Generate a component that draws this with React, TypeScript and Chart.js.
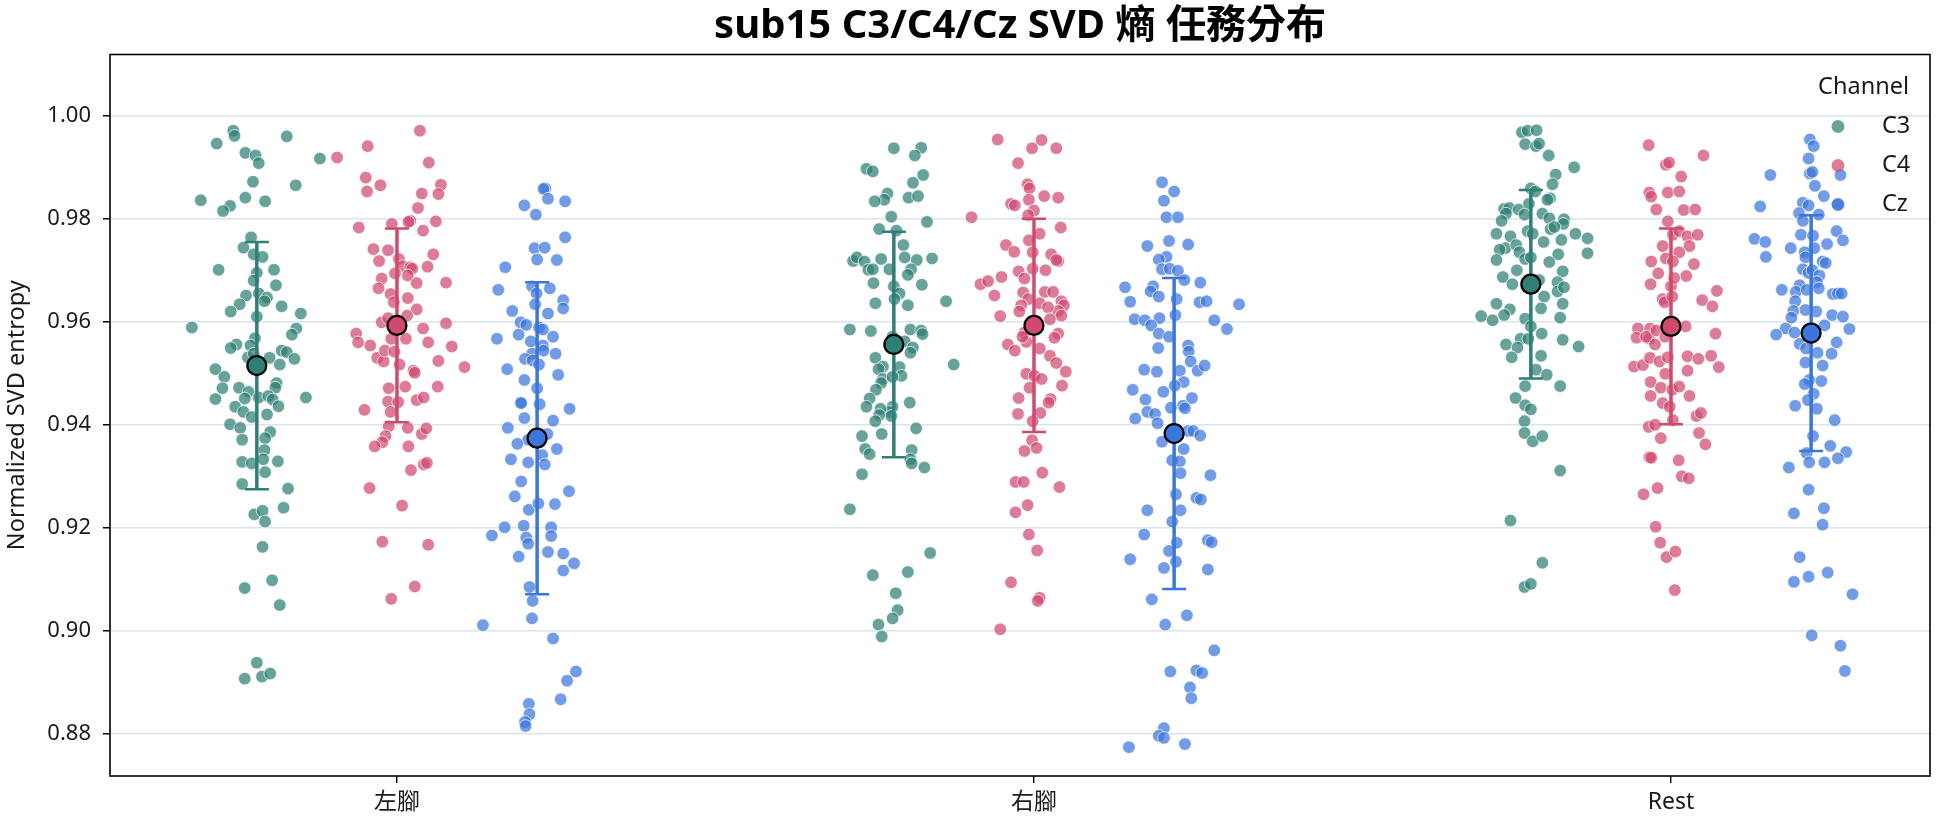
import React, { useEffect, useRef } from "react";
import { Chart, registerables } from "chart.js";

Chart.register(...registerables);

// Task categories and EEG channels
const categories = ["左腳", "右腳", "Rest"];
const channels = ["C3", "C4", "Cz"];
const yTickValues = [0.88, 0.9, 0.92, 0.94, 0.96, 0.98, 1.0];
const chartTitle = "sub15 C3/C4/Cz SVD 熵 任務分布";

// Per-trial normalized SVD entropy, stored as [jitter, value]
const c3Left = [[-0.037,0.997],[-0.035,0.996],[-0.063,0.9945],[0.047,0.9959],[-0.018,0.9927],[-0.002,0.9922],[0.003,0.9907],[0.099,0.9916],[-0.006,0.9871],[0.061,0.9864],[-0.088,0.9835],[-0.042,0.9824],[-0.053,0.9814],[-0.018,0.984],[0.013,0.9833],[-0.009,0.9763],[-0.021,0.9743],[-0.005,0.973],[0.009,0.9725],[-0.06,0.97],[0.027,0.97],[0,0.9694],[-0.005,0.9679],[0.03,0.967],[-0.017,0.965],[0.003,0.9654],[0.016,0.9646],[0.012,0.9639],[-0.027,0.9633],[-0.041,0.9619],[0.039,0.9629],[0,0.9609],[0.069,0.9615],[-0.102,0.9588],[0.062,0.9586],[0.055,0.9574],[-0.032,0.9555],[-0.041,0.9548],[-0.003,0.9567],[-0.01,0.9553],[-0.014,0.953],[-0.005,0.9537],[0.039,0.9543],[0.047,0.954],[0.059,0.9527],[0.02,0.9529],[0.036,0.9516],[-0.065,0.9507],[-0.051,0.9492],[-0.054,0.947],[-0.028,0.9471],[-0.013,0.9463],[-0.065,0.9449],[-0.019,0.945],[0.003,0.9452],[0.031,0.948],[0.029,0.9471],[0.018,0.9455],[0.025,0.9448],[0.077,0.9452],[-0.034,0.9434],[-0.021,0.9424],[-0.008,0.9414],[0.016,0.9419],[0.034,0.9435],[-0.042,0.94],[-0.026,0.9393],[-0.023,0.937],[0.021,0.9385],[0.013,0.9373],[0.012,0.935],[-0.023,0.9327],[-0.008,0.9324],[0.01,0.9332],[0.013,0.9307],[0.033,0.9328],[-0.023,0.9284],[0.049,0.9275],[-0.004,0.9225],[0.009,0.9232],[0.013,0.9211],[0.042,0.9238],[0.009,0.9162],[-0.019,0.9082],[0.024,0.9097],[0.036,0.9049],[0,0.8937],[-0.019,0.8906],[0.008,0.891],[0.021,0.8916]];
const c3Right = [[0,0.9936],[0.043,0.9937],[0.033,0.9922],[-0.043,0.9896],[-0.033,0.9891],[0.046,0.9884],[0.03,0.9869],[-0.01,0.9848],[-0.015,0.9836],[-0.03,0.9833],[0.023,0.984],[0.038,0.9843],[-0.004,0.9803],[0.052,0.9793],[-0.023,0.9779],[0.004,0.9776],[0.015,0.9748],[0.017,0.9724],[-0.064,0.9717],[-0.058,0.9724],[-0.02,0.9721],[-0.046,0.9716],[-0.04,0.97],[-0.033,0.9701],[-0.007,0.9701],[0.036,0.9719],[0.06,0.9722],[0.027,0.9701],[0.022,0.969],[-0.032,0.9674],[0.044,0.9671],[0,0.9668],[0.009,0.9654],[0.001,0.9643],[0.022,0.9631],[-0.029,0.9635],[0.082,0.9639],[-0.069,0.9584],[-0.036,0.9581],[-0.002,0.957],[0.026,0.9584],[0.043,0.9582],[0.045,0.9575],[0.017,0.9561],[0.03,0.9549],[0.026,0.9539],[0.094,0.9516],[-0.029,0.9529],[-0.017,0.9512],[-0.024,0.9507],[-0.017,0.9488],[0.009,0.9511],[0.012,0.9494],[-0.002,0.9492],[-0.02,0.948],[-0.028,0.9467],[-0.038,0.945],[-0.043,0.9434],[-0.002,0.9434],[-0.007,0.9424],[-0.004,0.9416],[-0.021,0.943],[-0.023,0.9418],[-0.029,0.9406],[0.025,0.9442],[0.035,0.9392],[-0.019,0.9381],[-0.05,0.9377],[-0.045,0.9352],[-0.038,0.9342],[0.028,0.935],[0.026,0.9332],[0.028,0.9324],[0.048,0.9316],[-0.05,0.9303],[-0.069,0.9235],[0.057,0.915],[0.022,0.9113],[-0.033,0.9107],[0.003,0.9072],[0.006,0.9039],[-0.002,0.9023],[-0.024,0.9011],[-0.019,0.8988]];
const c3Rest = [[-0.014,0.9967],[-0.005,0.997],[0.009,0.9971],[-0.009,0.9944],[0.008,0.994],[0.013,0.9945],[0.028,0.9922],[0.068,0.9899],[0.039,0.9885],[0.034,0.9866],[0,0.9858],[0.007,0.9852],[0.03,0.9839],[0.026,0.9836],[-0.042,0.9818],[-0.034,0.982],[-0.039,0.9809],[-0.046,0.9795],[-0.019,0.9817],[-0.003,0.9828],[-0.01,0.9807],[0.018,0.9809],[0.029,0.98],[0.052,0.9798],[0.051,0.9789],[-0.054,0.977],[-0.032,0.9765],[-0.04,0.9742],[-0.049,0.9739],[-0.023,0.9748],[-0.005,0.9775],[0.003,0.977],[0.02,0.9754],[0.031,0.9779],[0.037,0.9783],[0.048,0.9758],[0.07,0.977],[0.089,0.9761],[0.089,0.9732],[-0.018,0.9734],[-0.009,0.9721],[0,0.9724],[-0.054,0.9719],[0.043,0.973],[0.029,0.9715],[-0.022,0.9699],[-0.044,0.9686],[-0.029,0.9672],[0.05,0.9697],[0.013,0.968],[0.042,0.9676],[0.042,0.9658],[0.052,0.9666],[0.021,0.9648],[0.016,0.9625],[-0.054,0.9634],[0.05,0.9634],[-0.033,0.9623],[-0.042,0.9612],[-0.078,0.961],[-0.06,0.9602],[-0.009,0.9605],[0.046,0.9607],[0,0.959],[-0.016,0.9566],[-0.004,0.9566],[0.017,0.9576],[0.05,0.9564],[0.075,0.9551],[-0.039,0.9555],[-0.021,0.9549],[-0.03,0.953],[0.016,0.9533],[0.008,0.9506],[0.025,0.9496],[-0.009,0.9474],[0.046,0.9474],[-0.024,0.9451],[-0.009,0.9437],[0,0.9429],[-0.01,0.9406],[-0.01,0.9383],[0.003,0.9367],[0.018,0.9377],[0.046,0.931],[-0.032,0.9213],[0.018,0.9131],[-0.01,0.9084],[0,0.909]];
const c4Left = [[0.036,0.997],[-0.094,0.9918],[-0.046,0.994],[0.05,0.9908],[-0.049,0.9879],[-0.047,0.9852],[-0.026,0.9864],[0.069,0.9865],[0.065,0.9847],[0.039,0.9848],[0.033,0.982],[-0.06,0.9782],[-0.008,0.9789],[0.021,0.9795],[0.018,0.9793],[0.041,0.9776],[0.061,0.9794],[-0.037,0.974],[-0.014,0.9738],[-0.028,0.9717],[0.057,0.973],[0.003,0.9721],[0.009,0.9707],[0.021,0.9705],[0.024,0.9702],[0.048,0.9706],[-0.003,0.9693],[0.017,0.9689],[-0.024,0.9683],[-0.029,0.9664],[0.077,0.9675],[0.031,0.9674],[-0.01,0.9653],[-0.005,0.9637],[0.017,0.9645],[0.031,0.9623],[0.016,0.9611],[-0.024,0.9598],[-0.014,0.9606],[0.041,0.9586],[0.077,0.9596],[-0.064,0.9576],[-0.061,0.9559],[-0.042,0.9553],[-0.009,0.9566],[0.014,0.9566],[0.049,0.9559],[0.086,0.9551],[-0.031,0.9529],[-0.021,0.9522],[-0.019,0.9543],[-0.004,0.9541],[0.004,0.9516],[0.026,0.9504],[0.028,0.95],[0.065,0.9523],[0.106,0.9511],[-0.013,0.947],[-0.014,0.9444],[0.013,0.9473],[0.002,0.9443],[-0.01,0.9424],[0.031,0.9447],[0.042,0.9452],[0.064,0.9473],[-0.051,0.9428],[-0.013,0.9396],[-0.018,0.9377],[-0.023,0.9365],[-0.035,0.9357],[0.017,0.9393],[0.039,0.9381],[0.046,0.9392],[0.018,0.9357],[0.042,0.9322],[0.047,0.9325],[0.022,0.9311],[-0.043,0.9276],[0.008,0.9242],[-0.023,0.9172],[0.049,0.9166],[0.028,0.9085],[-0.009,0.9061]];
const c4Right = [[-0.057,0.9953],[0.012,0.9952],[-0.003,0.9936],[0.035,0.9936],[-0.025,0.9907],[-0.01,0.9866],[-0.007,0.9858],[-0.008,0.9836],[0.016,0.9843],[0.038,0.984],[-0.036,0.9828],[-0.03,0.9825],[0,0.9815],[-0.009,0.9806],[-0.098,0.9802],[0.042,0.9782],[0.009,0.977],[-0.008,0.9757],[-0.044,0.9748],[-0.031,0.9735],[-0.002,0.9734],[0.027,0.973],[0.038,0.9717],[0.035,0.9719],[-0.024,0.9697],[-0.015,0.9683],[-0.002,0.9702],[0.018,0.9699],[-0.084,0.9672],[-0.072,0.9678],[-0.051,0.9686],[-0.062,0.965],[-0.017,0.9656],[-0.009,0.9643],[-0.02,0.9631],[-0.023,0.9619],[0.017,0.9657],[0.03,0.9657],[0.009,0.9635],[0.043,0.9639],[0.047,0.9631],[0.038,0.962],[0.043,0.9611],[0.022,0.9627],[0.025,0.9604],[-0.053,0.961],[-0.015,0.9578],[-0.012,0.956],[-0.018,0.957],[0.038,0.9576],[0.032,0.9568],[0.009,0.9547],[-0.041,0.9555],[-0.03,0.9543],[0.025,0.9533],[0.035,0.9519],[0.05,0.9502],[-0.012,0.9498],[0.001,0.9494],[0.012,0.9488],[-0.007,0.9471],[0.044,0.9475],[-0.024,0.9451],[0.026,0.9449],[0.023,0.9442],[-0.025,0.942],[0.01,0.9422],[-0.002,0.9406],[-0.003,0.9369],[0.004,0.9354],[-0.015,0.9348],[0.013,0.9306],[-0.029,0.9288],[-0.016,0.9288],[0.04,0.9278],[-0.01,0.9243],[-0.029,0.9229],[-0.008,0.9186],[0.005,0.9155],[-0.036,0.9093],[0.009,0.9063],[0.006,0.9057],[-0.053,0.9002]];
const c4Rest = [[-0.035,0.9942],[0.051,0.9922],[-0.008,0.9904],[-0.003,0.9908],[0.016,0.9881],[-0.034,0.985],[-0.031,0.9842],[-0.005,0.985],[0.013,0.9852],[-0.023,0.9817],[0.02,0.9816],[0.038,0.9817],[-0.005,0.9794],[0.003,0.9768],[0.013,0.9775],[0.026,0.9765],[0.029,0.9746],[0.042,0.9768],[-0.013,0.9746],[0.013,0.9734],[-0.008,0.9722],[0.003,0.9716],[-0.031,0.9716],[-0.02,0.9693],[0.024,0.9688],[0.036,0.9711],[-0.032,0.9672],[0,0.9668],[0.005,0.9684],[-0.013,0.9643],[-0.01,0.9637],[0.002,0.9648],[0.072,0.9659],[0.049,0.9641],[0.065,0.9629],[-0.052,0.9586],[-0.054,0.9568],[-0.033,0.9586],[-0.034,0.9566],[-0.039,0.957],[-0.023,0.9582],[-0.025,0.9555],[-0.009,0.957],[0.023,0.959],[0.07,0.9576],[-0.058,0.9512],[-0.044,0.9515],[-0.033,0.9529],[-0.018,0.9522],[-0.005,0.953],[0.026,0.9532],[0.043,0.9527],[0.063,0.9533],[0.075,0.9511],[0.026,0.9504],[-0.009,0.9498],[-0.032,0.9482],[-0.032,0.9455],[-0.016,0.9471],[0.002,0.9467],[0.013,0.9473],[0.029,0.9455],[-0.013,0.9441],[-0.002,0.9434],[-0.035,0.9395],[-0.025,0.9399],[0.003,0.9408],[0.04,0.9416],[0.047,0.9422],[-0.016,0.9373],[0.044,0.9383],[0.054,0.9361],[-0.034,0.9336],[-0.031,0.9335],[0.012,0.933],[0.017,0.9299],[0.028,0.9295],[-0.043,0.9264],[-0.021,0.9276],[-0.024,0.9201],[-0.017,0.917],[-0.007,0.9142],[0.007,0.9153],[0.006,0.9078]];
const czLeft = [[0.013,0.9858],[0.01,0.9857],[0.017,0.9838],[0.044,0.9833],[-0.02,0.9825],[-0.002,0.9807],[0.044,0.9763],[-0.004,0.9742],[0.012,0.9743],[0,0.972],[0.031,0.9719],[-0.05,0.9705],[-0.061,0.9661],[-0.008,0.9668],[-0.001,0.9654],[0.02,0.9664],[0.041,0.9641],[0.041,0.9625],[-0.003,0.9633],[-0.039,0.962],[0.017,0.9615],[-0.026,0.9598],[-0.017,0.9593],[-0.029,0.9574],[0.003,0.9588],[0.009,0.9584],[0.025,0.957],[-0.063,0.9566],[-0.01,0.9561],[0.009,0.9553],[0.01,0.9543],[-0.008,0.9537],[-0.019,0.9527],[-0.007,0.9524],[0.003,0.9516],[0.029,0.9537],[-0.047,0.9507],[0.033,0.9496],[-0.02,0.9486],[0,0.947],[-0.026,0.9442],[-0.025,0.9441],[0.004,0.9439],[-0.02,0.9412],[0.051,0.943],[0.025,0.9407],[-0.046,0.9393],[0.016,0.9381],[-0.014,0.937],[-0.031,0.9362],[0.031,0.9352],[-0.041,0.9332],[-0.014,0.9326],[0.008,0.934],[0.012,0.9322],[-0.025,0.9289],[0.05,0.927],[-0.035,0.926],[-0.013,0.9234],[0.002,0.9246],[0.028,0.9245],[-0.071,0.9184],[-0.051,0.92],[-0.021,0.9203],[-0.017,0.918],[-0.014,0.9168],[0.022,0.92],[0.022,0.9183],[-0.029,0.9143],[0.017,0.9152],[0.041,0.9149],[0.041,0.9116],[0.058,0.913],[-0.012,0.9084],[-0.007,0.9057],[-0.008,0.9023],[-0.085,0.901],[0.025,0.8984],[0.061,0.892],[0.047,0.8902],[0.037,0.8866],[-0.013,0.8857],[-0.012,0.8837],[-0.019,0.8822],[-0.018,0.8814]];
const czRight = [[-0.019,0.987],[0,0.9852],[-0.016,0.9834],[-0.012,0.9802],[0.006,0.9802],[-0.008,0.9756],[0.022,0.9749],[-0.042,0.9746],[-0.012,0.9725],[-0.024,0.972],[-0.019,0.9701],[-0.007,0.9702],[0.006,0.9698],[0.016,0.968],[0.041,0.9675],[-0.077,0.9666],[-0.033,0.9668],[-0.037,0.9658],[-0.024,0.9648],[0.004,0.9643],[-0.069,0.9638],[0.04,0.9637],[0.051,0.9639],[0.102,0.9633],[-0.062,0.9604],[-0.046,0.9602],[-0.023,0.9606],[0.002,0.9612],[0.063,0.9602],[0.083,0.9585],[-0.036,0.9592],[-0.024,0.9576],[-0.008,0.957],[0.022,0.9553],[0.023,0.9541],[0.026,0.9522],[-0.025,0.9548],[-0.047,0.9506],[-0.027,0.9502],[0.009,0.9504],[0.037,0.9504],[0.048,0.9514],[0.015,0.9482],[0.001,0.9475],[-0.065,0.9467],[-0.017,0.9463],[-0.045,0.9448],[0.028,0.9451],[0.014,0.9436],[0.017,0.9431],[-0.005,0.9432],[-0.061,0.9411],[-0.042,0.9424],[-0.03,0.942],[-0.026,0.9402],[0.022,0.9387],[0.03,0.9387],[0.041,0.9378],[-0.019,0.9366],[0.015,0.9352],[-0.003,0.933],[0.009,0.9328],[0.01,0.9305],[0.057,0.9301],[0.003,0.9264],[0.035,0.9257],[0.042,0.9254],[-0.042,0.9233],[0.01,0.9233],[-0.003,0.9211],[-0.047,0.9186],[0.053,0.9175],[0.059,0.9171],[0.004,0.917],[-0.008,0.9154],[-0.069,0.9138],[0.003,0.9133],[-0.016,0.9121],[0.053,0.9118],[-0.035,0.906],[0.02,0.9029],[-0.014,0.9011],[0.063,0.8961],[-0.006,0.892],[0.035,0.8922],[0.044,0.8917],[0.025,0.8889],[0.027,0.8868],[-0.016,0.881],[-0.024,0.8795],[-0.016,0.8791],[-0.071,0.8773],[0.017,0.8779]];
const czRest = [[-0.002,0.9953],[0.004,0.994],[-0.004,0.9916],[-0.064,0.9884],[-0.002,0.9887],[0.002,0.989],[0.046,0.9884],[0.006,0.9863],[0.02,0.9843],[-0.08,0.9823],[-0.013,0.983],[-0.004,0.9825],[0.042,0.9827],[-0.019,0.981],[-0.013,0.9795],[0.012,0.9807],[-0.089,0.976],[-0.072,0.9754],[-0.071,0.9725],[-0.016,0.9768],[0.003,0.9766],[0.005,0.9742],[0.04,0.9775],[0.05,0.9757],[0.025,0.975],[-0.032,0.9742],[-0.01,0.9734],[-0.009,0.9724],[-0.013,0.9701],[0.018,0.9716],[0.023,0.9713],[-0.004,0.9694],[0.002,0.9699],[0.013,0.9689],[0.009,0.9676],[0.012,0.9664],[-0.018,0.967],[-0.024,0.9657],[-0.007,0.9661],[-0.046,0.9661],[0.034,0.9653],[0.042,0.9654],[0.048,0.9654],[-0.025,0.9639],[-0.028,0.962],[-0.031,0.9607],[-0.009,0.9622],[0.008,0.9619],[0.033,0.9612],[0.05,0.9609],[-0.04,0.9586],[-0.055,0.9574],[-0.026,0.9578],[0.021,0.9592],[0.06,0.9585],[-0.018,0.9556],[-0.008,0.9547],[0.01,0.9539],[0.04,0.9559],[0.032,0.9537],[-0.009,0.952],[0.018,0.9514],[-0.003,0.9486],[-0.01,0.9478],[0.016,0.9484],[0.004,0.9459],[-0.005,0.9447],[-0.025,0.9436],[0.009,0.943],[0.037,0.9408],[0.003,0.9377],[0.03,0.9358],[0.055,0.9346],[-0.007,0.9344],[-0.003,0.9326],[0.021,0.9326],[0.042,0.9334],[-0.035,0.9316],[-0.004,0.9273],[0.02,0.9237],[-0.027,0.9227],[0.018,0.9205],[-0.018,0.9142],[-0.027,0.9094],[-0.004,0.9104],[0.026,0.9112],[0.065,0.907],[0.001,0.899],[0.046,0.897],[0.053,0.8921]];

// Channel means and standard deviations per category (左腳, 右腳, Rest)
const c3Mean = [0.9514, 0.9555, 0.9672];
const c3Sd = [0.024, 0.0219, 0.0183];
const c4Mean = [0.9592, 0.9592, 0.959];
const c4Sd = [0.0188, 0.0207, 0.019];
const czMean = [0.9373, 0.9382, 0.9577];
const czSd = [0.0303, 0.0302, 0.0229];

const trials = [
  [c3Left, c3Right, c3Rest],
  [c4Left, c4Right, c4Rest],
  [czLeft, czRight, czRest],
];
const means = [c3Mean, c4Mean, czMean];
const sds = [c3Sd, c4Sd, czSd];

const strongColors = ["#2e7f75", "#d04a6e", "#3b76db"];
const softColors = ["rgba(46,127,117,0.72)", "rgba(208,74,110,0.72)", "rgba(59,118,219,0.72)"];
const dodge = [-0.22, 0, 0.22];

const FONT = '"Noto Sans", "Noto Sans CJK TC", sans-serif';

export default function App() {
  const ref = useRef<HTMLCanvasElement | null>(null);

  useEffect(() => {
    document.body.style.margin = "0";
    const canvas = ref.current;
    if (!canvas) return;

    const pointSets = channels.map((name, ci) => ({
      label: name,
      data: trials[ci].flatMap((cluster, k) =>
        cluster.map(([j, v]) => ({ x: k + dodge[ci] + j, y: v }))
      ),
      backgroundColor: softColors[ci],
      borderColor: "rgba(255,255,255,0.9)",
      borderWidth: 0.8,
      pointRadius: 6.3,
      showLine: false,
      order: 5 - ci,
    }));

    const meanSets = channels.map((name, ci) => ({
      label: name + " mean",
      isMean: true,
      data: means[ci].map((m, k) => ({ x: k + dodge[ci], y: m })),
      backgroundColor: strongColors[ci],
      borderColor: "#000",
      borderWidth: 2.2,
      pointRadius: 9.5,
      showLine: false,
      order: 0,
    }));

    let barsDone = false;
    const errorBars = {
      id: "errorBars",
      beforeDatasetsDraw() {
        barsDone = false;
      },
      beforeDatasetDraw(chart: any, args: any) {
        const ds = chart.data.datasets[args.index];
        if (barsDone || !ds.isMean) return;
        barsDone = true;
        const ctx = chart.ctx;
        const xs = chart.scales.x;
        const ys = chart.scales.y;
        ctx.save();
        channels.forEach((_, ci) => {
          means[ci].forEach((m, k) => {
            const x = xs.getPixelForValue(k + dodge[ci]);
            const y1 = ys.getPixelForValue(m + sds[ci][k]);
            const y2 = ys.getPixelForValue(m - sds[ci][k]);
            ctx.strokeStyle = strongColors[ci];
            ctx.lineWidth = 3.5;
            ctx.beginPath();
            ctx.moveTo(x, y1);
            ctx.lineTo(x, y2);
            ctx.stroke();
            ctx.lineWidth = 2.5;
            ctx.beginPath();
            ctx.moveTo(x - 12, y1);
            ctx.lineTo(x + 12, y1);
            ctx.moveTo(x - 12, y2);
            ctx.lineTo(x + 12, y2);
            ctx.stroke();
          });
        });
        ctx.restore();
      },
    };

    // Title centred over the plot area, frame on all four sides, and channel legend
    const decorations = {
      id: "decorations",
      afterDraw(chart: any) {
        const { ctx, chartArea } = chart;
        ctx.save();
        ctx.strokeStyle = "#000";
        ctx.lineWidth = 1.6;
        ctx.strokeRect(chartArea.left, chartArea.top, chartArea.right - chartArea.left, chartArea.bottom - chartArea.top);

        ctx.fillStyle = "#000";
        ctx.font = `bold 40px ${FONT}`;
        ctx.textAlign = "center";
        ctx.textBaseline = "middle";
        ctx.fillText(chartTitle, (chartArea.left + chartArea.right) / 2, 27);

        const right = chartArea.right - 21;
        ctx.fillStyle = "#1a1a1a";
        ctx.font = `23.5px ${FONT}`;
        ctx.textAlign = "right";
        ctx.fillText("Channel", right, chartArea.top + 33);
        channels.forEach((name, ci) => {
          const y = chartArea.top + 72 + ci * 39;
          ctx.beginPath();
          ctx.arc(right - 71, y, 6.5, 0, Math.PI * 2);
          ctx.fillStyle = softColors[ci];
          ctx.fill();
          ctx.fillStyle = "#1a1a1a";
          ctx.textAlign = "left";
          ctx.fillText(name, right - 27, y);
        });
        ctx.restore();
      },
    };

    const chart = new Chart(canvas, {
      type: "scatter",
      data: { datasets: [...pointSets, ...meanSets] as any },
      plugins: [errorBars, decorations],
      options: {
        animation: false,
        responsive: true,
        maintainAspectRatio: false,
        devicePixelRatio: 1,
        events: [],
        layout: { padding: { left: 0, right: 14, top: 54.5, bottom: 0 } },
        plugins: {
          legend: { display: false },
          tooltip: { enabled: false },
          title: { display: false },
        },
        scales: {
          x: {
            type: "linear",
            min: -0.4505,
            max: 2.4066,
            afterBuildTicks: (scale: any) => {
              scale.ticks = categories.map((_, i) => ({ value: i }));
            },
            afterFit: (scale: any) => {
              scale.height = 51;
            },
            ticks: {
              autoSkip: false,
              padding: 6,
              color: "#1a1a1a",
              font: { family: FONT, size: 23 },
              callback: (_v: any, i: number) => categories[i],
            },
            grid: { drawOnChartArea: false, tickColor: "#000", tickLength: 7, lineWidth: 1.4 },
            border: { display: false },
          },
          y: {
            type: "linear",
            min: 0.8717,
            max: 1.0118,
            afterBuildTicks: (scale: any) => {
              scale.ticks = yTickValues.map((v) => ({ value: v }));
            },
            afterFit: (scale: any) => {
              scale.width = 110;
            },
            ticks: {
              padding: 12,
              color: "#1a1a1a",
              font: { family: FONT, size: 22 },
              callback: (v: any) => Number(v).toFixed(2),
            },
            grid: { color: "#dbe4ee", lineWidth: 1.5, tickColor: "#000", tickLength: 7 },
            border: { display: false },
            title: {
              display: true,
              text: "Normalized SVD entropy",
              color: "#1a1a1a",
              font: { family: FONT, size: 23.5 },
              padding: { top: 3, bottom: 0 },
            },
          },
        },
      },
    });

    return () => chart.destroy();
  }, []);

  return (
    <div style={{ width: 1944, height: 827, position: "relative", background: "#fff" }}>
      <canvas ref={ref} />
    </div>
  );
}
